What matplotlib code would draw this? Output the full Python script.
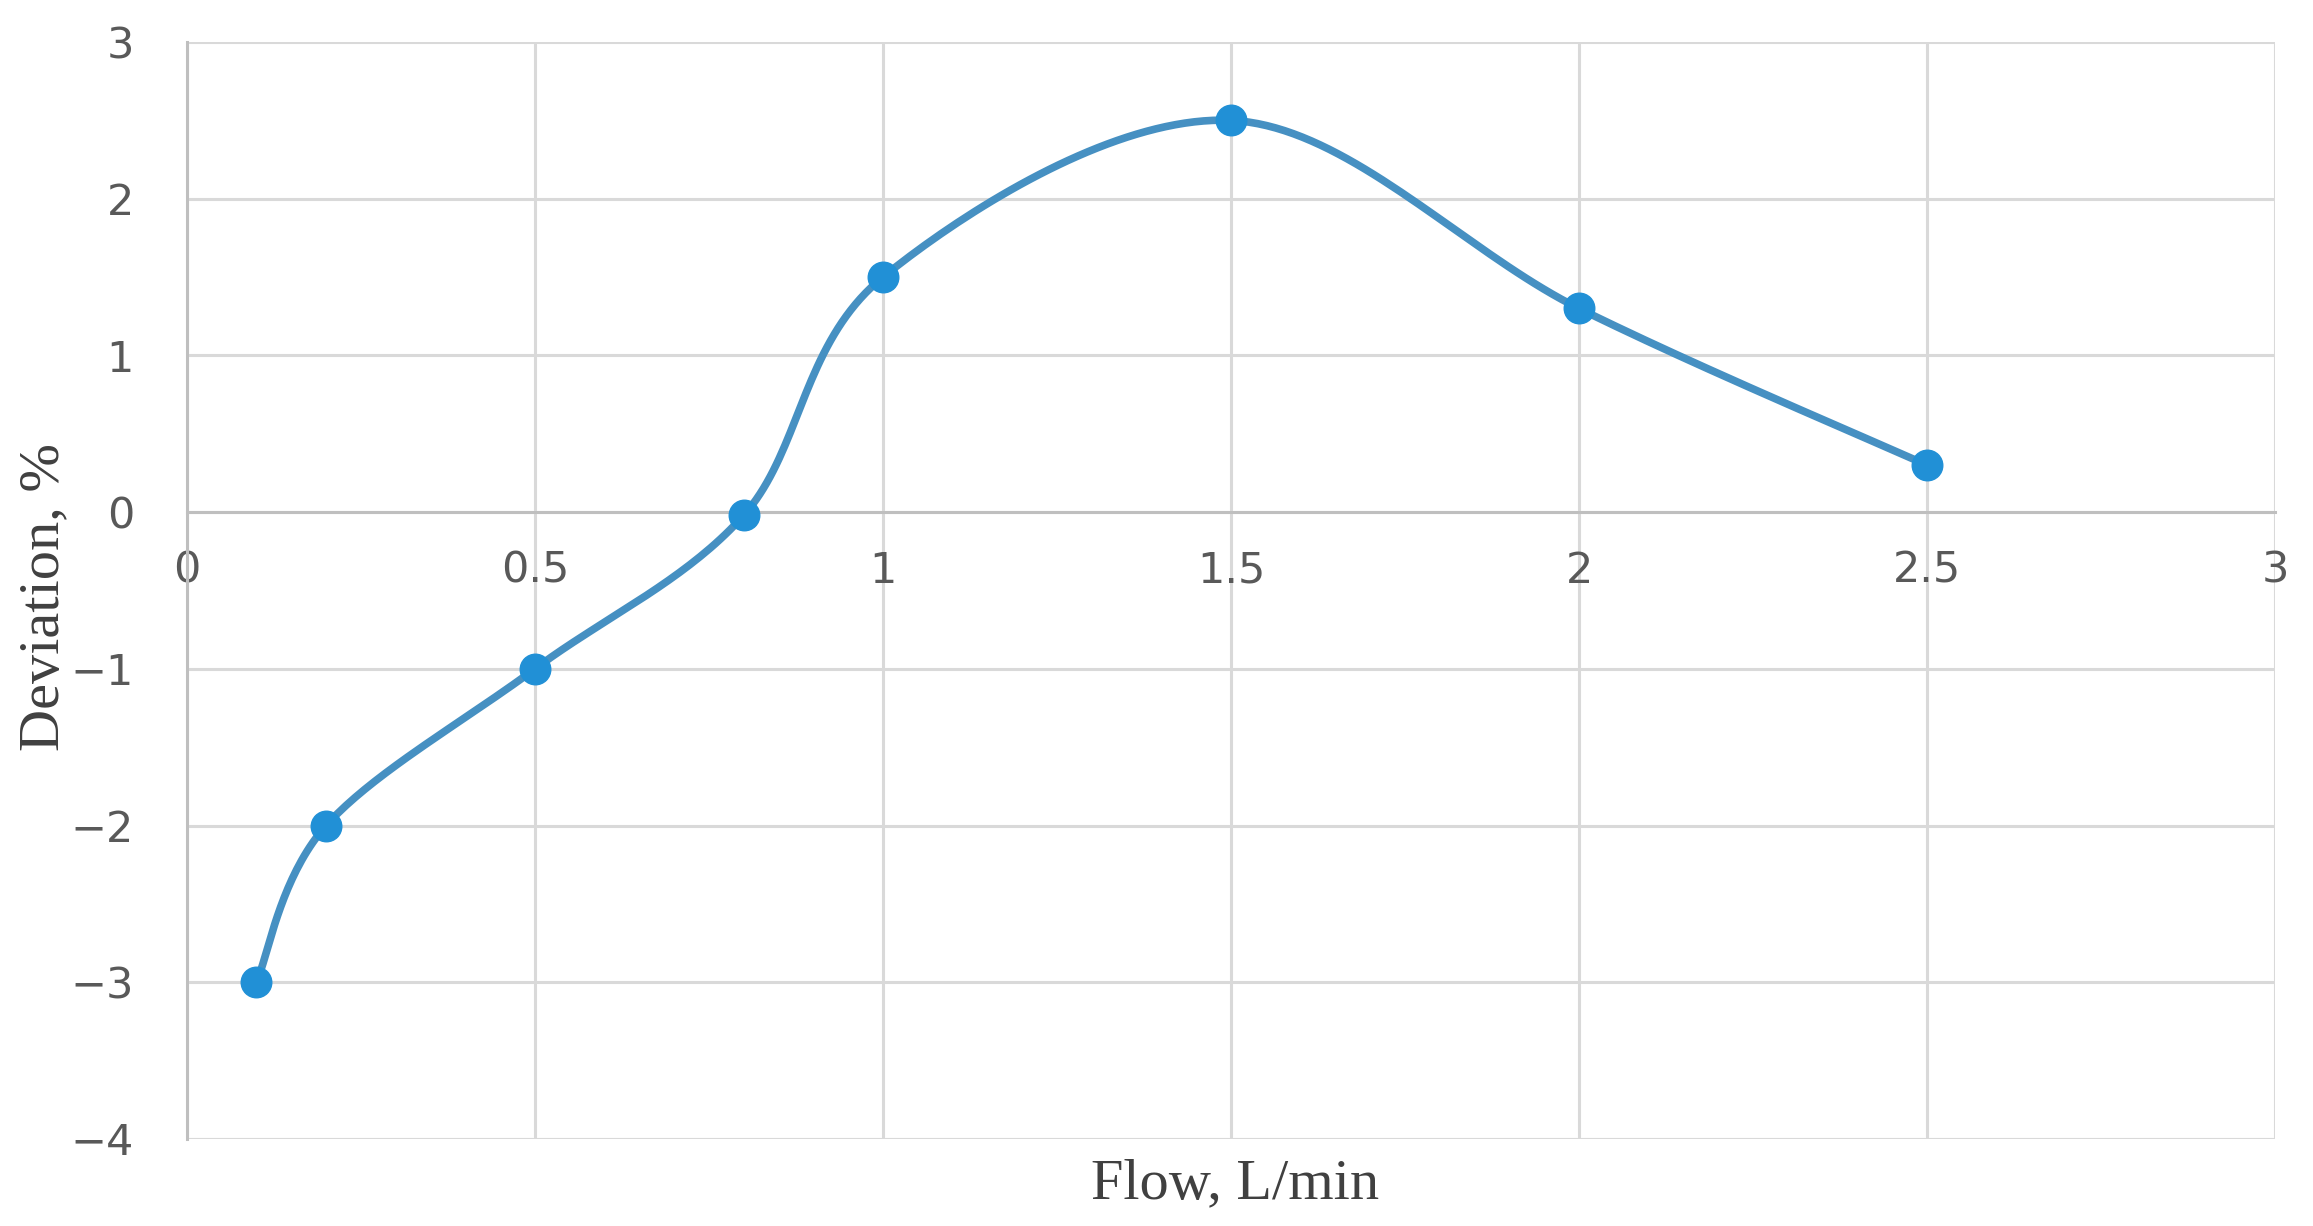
import numpy as np
import matplotlib
matplotlib.use("Agg")
import matplotlib.pyplot as plt

# values
flow = [0.1, 0.2, 0.5, 0.8, 1.0, 1.5, 2.0, 2.5]
deviation = [-3.0, -2.0, -1.0, -0.02, 1.5, 2.5, 1.3, 0.3]

x_ticks = [0, 0.5, 1, 1.5, 2, 2.5, 3]
x_tick_labels = ["0", "0.5", "1", "1.5", "2", "2.5", "3"]
y_ticks = [-4, -3, -2, -1, 0, 1, 2, 3]
y_tick_labels = ["\u22124", "\u22123", "\u22122", "\u22121", "0", "1", "2", "3"]


def smooth_curve(xs, ys, n=40):
    # Excel-style smoothed line: parametric Catmull-Rom through the points
    px = np.array([xs[0]] + list(xs) + [xs[-1]], dtype=float)
    py = np.array([ys[0]] + list(ys) + [ys[-1]], dtype=float)
    out_x, out_y = [], []
    t = np.linspace(0, 1, n)
    for i in range(1, len(px) - 2):
        p0x, p1x, p2x, p3x = px[i - 1:i + 3]
        p0y, p1y, p2y, p3y = py[i - 1:i + 3]
        c1x = p1x + (p2x - p0x) / 6
        c1y = p1y + (p2y - p0y) / 6
        c2x = p2x - (p3x - p1x) / 6
        c2y = p2y - (p3y - p1y) / 6
        bx = ((1 - t) ** 3 * p1x + 3 * (1 - t) ** 2 * t * c1x
              + 3 * (1 - t) * t ** 2 * c2x + t ** 3 * p2x)
        by = ((1 - t) ** 3 * p1y + 3 * (1 - t) ** 2 * t * c1y
              + 3 * (1 - t) * t ** 2 * c2y + t ** 3 * p2y)
        out_x.extend(bx)
        out_y.extend(by)
    return out_x, out_y


fig = plt.figure(figsize=(23.13, 12.26), dpi=100)
ax = fig.add_axes([0.0808, 0.0710, 0.9028, 0.8947])

sx, sy = smooth_curve(flow, deviation)
ax.plot(sx, sy, color="#4690C2", linewidth=5.5, solid_capstyle="round", zorder=3)
ax.plot(flow, deviation, linestyle="none", marker="o", markersize=22,
        color="#2190D6", zorder=4)

ax.set_xlim(0, 3)
ax.set_ylim(-4, 3)
ax.set_xticks(x_ticks)
ax.set_xticklabels(x_tick_labels)
ax.set_yticks(y_ticks)
ax.set_yticklabels(y_tick_labels)

ax.grid(True, color="#D9D9D9", linewidth=2.2)
ax.set_axisbelow(True)

for s in ["top", "right"]:
    ax.spines[s].set_visible(False)
ax.spines["bottom"].set_position(("data", 0))
ax.spines["bottom"].set_color("#BFBFBF")
ax.spines["bottom"].set_linewidth(2.2)
ax.spines["left"].set_color("#BFBFBF")
ax.spines["left"].set_linewidth(2.2)

ax.tick_params(axis="both", length=0, labelsize=31, labelcolor="#595959")
ax.tick_params(axis="x", pad=27)
ax.tick_params(axis="y", pad=38)

# bottom border at -4
ax.axhline(-4, color="#D9D9D9", linewidth=2.2, zorder=1)

fig.text(0.534, 0.034, "Flow, L/min", family="Liberation Serif", fontsize=42,
         color="#404040", ha="center", va="center")
fig.text(0.019, 0.513, "Deviation, %", family="Liberation Serif", fontsize=42,
         color="#404040", ha="center", va="center", rotation=90)

fig.savefig("out.png", dpi=100, facecolor="white")
